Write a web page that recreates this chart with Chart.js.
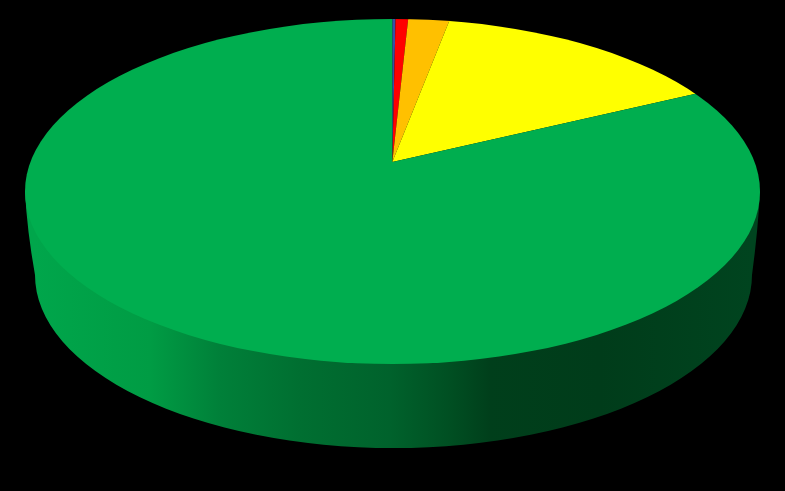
<!DOCTYPE html>
<html>
<head>
<meta charset="utf-8">
<style>
  html, body { margin: 0; padding: 0; background: #000; }
  #wrap { width: 785px; height: 491px; }
</style>
<script src="https://cdn.jsdelivr.net/npm/chart.js@4"></script>
</head>
<body>
<div id="wrap"><canvas id="pie" width="785" height="491"></canvas></div>
<script>
// Shares, clockwise from 12 o'clock
const categories = ['Blue', 'Red', 'Orange', 'Yellow', 'Green'];
const shares = [0.17, 0.66, 2.15, 14.9, 82.1];
const sliceColors = ['#3a4fa8', '#ff0000', '#ffc000', '#ffff00', '#00ae4f'];

// Side wall shading, left to right: [x, colour]
const wallStops = [
  [35, '#00a64b'], [150, '#009c44'], [220, '#008039'], [300, '#006f31'],
  [390, '#00622c'], [450, '#004f22'], [490, '#003f1b'], [600, '#003c1a'], [752, '#00441f']
];

// Top face geometry: the pie is tilted, so the apex sits above the ellipse centre
const apex = { x: 392.3, y: 162 };
const top3d = { x: 392.5, y: 191.5, rx: 367.5, ry: 172.5 };
const base3d = { x: 393.5, y: 275, rx: 358.5, ry: 173 };
const tilt = top3d.ry / top3d.rx;

const tiltedPie = {
  id: 'tiltedPie',
  beforeDatasetsDraw(chart) {
    const ctx = chart.ctx;
    const grad = ctx.createLinearGradient(35, 0, 752, 0);
    wallStops.forEach(s => grad.addColorStop((s[0] - 35) / (752 - 35), s[1]));

    // wall
    ctx.save();
    ctx.fillStyle = grad;
    ctx.beginPath();
    ctx.moveTo(top3d.x - top3d.rx, top3d.y);
    ctx.quadraticCurveTo(top3d.x - top3d.rx + 2, base3d.y - 45, base3d.x - base3d.rx, base3d.y);
    ctx.ellipse(base3d.x, base3d.y, base3d.rx, base3d.ry, 0, Math.PI, 0, true);
    ctx.quadraticCurveTo(top3d.x + top3d.rx - 2, base3d.y - 45, top3d.x + top3d.rx, top3d.y);
    ctx.closePath();
    ctx.fill();
    ctx.restore();

    // squash the slices about the apex and cut them to the top ellipse
    const arc = chart.getDatasetMeta(0).data[0];
    ctx.save();
    ctx.beginPath();
    ctx.ellipse(top3d.x, top3d.y, top3d.rx, top3d.ry, 0, 0, Math.PI * 2);
    ctx.clip();
    ctx.translate(apex.x, apex.y);
    ctx.scale(1, tilt);
    ctx.translate(-arc.x, -arc.y);
  },
  afterDatasetsDraw(chart) {
    chart.ctx.restore();
  }
};

new Chart(document.getElementById('pie'), {
  type: 'pie',
  data: {
    labels: categories,
    datasets: [{
      data: shares,
      backgroundColor: sliceColors,
      borderWidth: 0,
      clip: false
    }]
  },
  options: {
    responsive: false,
    animation: false,
    radius: 900,
    layout: { padding: 0 },
    plugins: { legend: { display: false }, tooltip: { enabled: false } }
  },
  plugins: [tiltedPie]
});
</script>
</body>
</html>
